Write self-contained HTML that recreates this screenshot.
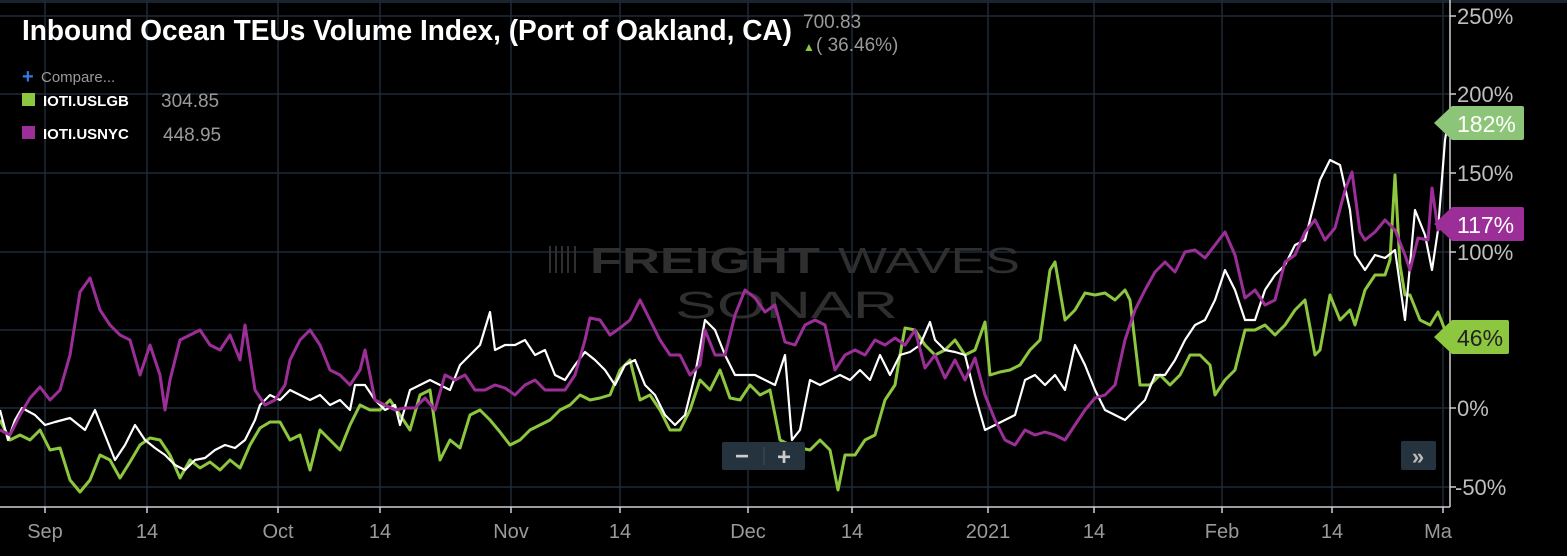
<!DOCTYPE html>
<html><head><meta charset="utf-8"><style>
html,body{margin:0;padding:0;background:#000;}
body{width:1567px;height:556px;overflow:hidden;position:relative;font-family:"Liberation Sans",sans-serif;}
svg{position:absolute;left:0;top:0;}
</style></head><body>
<svg width="1567" height="556" viewBox="0 0 1567 556" xmlns="http://www.w3.org/2000/svg">
<rect width="1567" height="556" fill="#000"/>
<rect x="0" y="0" width="1567" height="3" fill="#1a2430"/>
<g stroke="#1f2b36" stroke-width="1.5">
<line x1="0" y1="16" x2="1450" y2="16"/><line x1="0" y1="94" x2="1450" y2="94"/><line x1="0" y1="173" x2="1450" y2="173"/><line x1="0" y1="252" x2="1450" y2="252"/><line x1="0" y1="330" x2="1450" y2="330"/><line x1="0" y1="408" x2="1450" y2="408"/><line x1="0" y1="487" x2="1450" y2="487"/>
<line x1="45" y1="0" x2="45" y2="507"/><line x1="147" y1="0" x2="147" y2="507"/><line x1="278" y1="0" x2="278" y2="507"/><line x1="380" y1="0" x2="380" y2="507"/><line x1="511" y1="0" x2="511" y2="507"/><line x1="620" y1="0" x2="620" y2="507"/><line x1="748" y1="0" x2="748" y2="507"/><line x1="852" y1="0" x2="852" y2="507"/><line x1="988" y1="0" x2="988" y2="507"/><line x1="1094" y1="0" x2="1094" y2="507"/><line x1="1222" y1="0" x2="1222" y2="507"/><line x1="1332" y1="0" x2="1332" y2="507"/><line x1="1443" y1="0" x2="1443" y2="507"/>
</g>
<g fill="#2f2f2f" font-family="Liberation Sans,sans-serif">
<text x="590" y="273" font-size="36" font-weight="bold" textLength="230" lengthAdjust="spacingAndGlyphs">FREIGHT</text>
<text x="838" y="273" font-size="36" textLength="182" lengthAdjust="spacingAndGlyphs">WAVES</text>
<text x="675" y="318" font-size="38" textLength="223" lengthAdjust="spacingAndGlyphs">SONAR</text>
<g stroke="#2f2f2f" stroke-width="2"><line x1="550" y1="246" x2="550" y2="273"/><line x1="556" y1="246" x2="556" y2="273"/><line x1="562" y1="246" x2="562" y2="273"/><line x1="568" y1="246" x2="568" y2="273"/><line x1="575" y1="246" x2="575" y2="273"/></g>
</g>
<g fill="none" stroke-width="3" stroke-linejoin="round">
<polyline stroke="#8dc63f" points="0,420 10,440 20,435 30,440 40,430 50,450 60,448 70,480 80,492 90,480 100,455 110,460 120,478 130,462 140,445 150,438 160,440 170,455 180,478 190,460 200,468 210,462 220,470 230,460 240,468 250,445 260,428 270,422 280,422 290,440 300,435 310,470 320,430 330,440 340,450 350,425 360,405 370,410 380,410 390,400 400,415 410,430 420,395 430,390 440,460 450,440 460,448 470,415 480,410 490,420 500,432 510,445 520,440 530,430 540,425 550,420 560,410 570,405 580,395 590,400 600,398 610,395 620,370 630,360 640,400 650,395 660,410 670,430 680,430 690,410 700,380 710,390 720,370 730,398 740,400 750,385 760,395 770,390 780,440 790,445 800,448 810,450 820,440 830,450 838,490 845,455 855,455 865,440 875,435 885,400 895,385 900,355 905,328 915,330 925,345 935,355 945,350 955,340 965,355 975,350 985,322 990,375 1000,372 1010,370 1020,365 1030,350 1040,340 1050,270 1055,262 1065,320 1075,310 1085,293 1095,295 1105,293 1115,300 1125,290 1130,300 1140,385 1150,385 1160,375 1170,385 1180,375 1190,355 1200,355 1210,365 1215,395 1225,380 1235,370 1245,330 1255,330 1265,325 1275,335 1285,325 1295,310 1305,300 1315,355 1320,350 1330,295 1340,320 1350,310 1355,325 1365,290 1375,275 1385,275 1390,260 1395,175 1400,265 1405,295 1410,295 1420,320 1430,325 1438,312 1445,330"/>
<polyline stroke="#ffffff" stroke-width="2.2" points="0,410 8,440 15,420 22,408 35,415 45,425 55,422 70,418 85,430 95,410 105,435 115,460 125,445 135,425 145,440 155,448 165,455 175,465 185,470 195,460 205,458 215,450 225,445 235,448 245,440 255,420 260,405 270,395 280,400 290,390 300,395 310,400 320,395 330,405 340,400 350,410 355,385 365,385 375,400 385,410 395,405 400,425 410,390 420,385 430,380 440,385 450,390 460,365 470,355 480,345 490,312 495,350 505,345 515,345 525,340 535,355 545,350 555,375 565,380 575,365 585,352 595,360 605,370 615,385 625,365 635,360 645,385 655,395 665,415 675,425 685,415 695,375 705,320 715,330 725,355 735,375 745,375 755,375 765,380 775,385 785,355 792,440 800,430 810,380 820,385 830,380 840,375 850,380 860,370 870,380 880,355 890,375 900,355 910,352 920,345 930,322 935,340 945,350 955,352 965,355 975,395 985,430 995,425 1005,420 1015,415 1025,380 1035,375 1045,385 1055,375 1065,390 1075,345 1085,365 1095,390 1105,410 1115,415 1125,420 1135,410 1145,400 1155,375 1165,375 1175,360 1185,340 1195,325 1205,320 1215,300 1225,270 1235,290 1245,320 1255,320 1265,290 1275,275 1285,265 1295,245 1305,240 1315,200 1320,180 1330,160 1340,165 1350,210 1355,255 1365,270 1375,255 1385,258 1395,250 1405,320 1415,210 1425,235 1432,270 1438,230 1445,140 1447,128"/>
<polyline stroke="#9b2f97" points="0,430 10,435 20,415 30,398 40,387 50,400 60,390 70,355 80,292 90,278 100,310 110,325 120,335 130,340 140,375 150,345 160,375 165,410 170,380 180,340 190,335 200,330 210,345 220,350 230,335 240,360 245,325 255,390 265,405 275,400 285,385 290,360 300,340 310,330 320,345 330,370 340,375 350,385 360,370 365,350 375,400 385,405 395,410 405,408 415,408 425,398 435,410 445,375 455,380 465,375 475,390 485,390 495,385 505,388 515,395 525,385 535,380 545,390 555,390 565,390 575,375 585,340 590,318 600,320 610,335 620,328 630,320 640,300 650,320 660,340 670,355 680,355 690,375 700,365 705,330 715,355 725,355 735,315 745,290 755,298 765,312 775,305 785,342 795,345 805,325 815,320 825,325 835,370 845,355 855,350 865,355 875,340 885,345 895,338 905,345 915,330 925,368 935,355 945,378 955,360 965,380 975,358 985,395 995,420 1005,440 1015,445 1025,430 1035,435 1045,432 1055,435 1065,440 1075,425 1085,410 1095,398 1105,395 1115,385 1125,340 1135,310 1145,290 1155,272 1165,262 1175,272 1185,252 1195,250 1205,258 1215,245 1225,232 1235,255 1245,298 1255,290 1265,305 1275,300 1285,262 1295,255 1305,232 1315,220 1325,240 1335,228 1345,190 1352,172 1360,232 1365,240 1375,232 1385,220 1395,230 1405,255 1410,270 1418,238 1428,240 1432,188 1438,230 1445,225"/>
</g>
<line x1="1450" y1="0" x2="1450" y2="507" stroke="#cfcfcf" stroke-width="1.5"/>
<line x1="0" y1="507" x2="1450" y2="507" stroke="#cfcfcf" stroke-width="1.5"/>
<g stroke="#cfcfcf" stroke-width="1.5">
<line x1="1450" y1="16" x2="1456" y2="16"/><line x1="1450" y1="94" x2="1456" y2="94"/><line x1="1450" y1="173" x2="1456" y2="173"/><line x1="1450" y1="252" x2="1456" y2="252"/><line x1="1450" y1="330" x2="1456" y2="330"/><line x1="1450" y1="408" x2="1456" y2="408"/><line x1="1450" y1="487" x2="1456" y2="487"/>
<line x1="45" y1="507" x2="45" y2="513"/><line x1="147" y1="507" x2="147" y2="513"/><line x1="278" y1="507" x2="278" y2="513"/><line x1="380" y1="507" x2="380" y2="513"/><line x1="511" y1="507" x2="511" y2="513"/><line x1="620" y1="507" x2="620" y2="513"/><line x1="748" y1="507" x2="748" y2="513"/><line x1="852" y1="507" x2="852" y2="513"/><line x1="988" y1="507" x2="988" y2="513"/><line x1="1094" y1="507" x2="1094" y2="513"/><line x1="1222" y1="507" x2="1222" y2="513"/><line x1="1332" y1="507" x2="1332" y2="513"/><line x1="1443" y1="507" x2="1443" y2="513"/>
</g>
<g fill="#bfbfbf" font-size="22" font-family="Liberation Sans,sans-serif">
<text x="1457" y="24">250%</text><text x="1457" y="102">200%</text><text x="1457" y="181">150%</text><text x="1457" y="260">100%</text><text x="1457" y="338">50%</text><text x="1457" y="416">0%</text><text x="1455" y="495">-50%</text>
</g>
<g fill="#9a9a9a" font-size="20" font-family="Liberation Sans,sans-serif" text-anchor="middle">
<text x="45" y="538">Sep</text><text x="147" y="538">14</text><text x="278" y="538">Oct</text><text x="380" y="538">14</text><text x="511" y="538">Nov</text><text x="620" y="538">14</text><text x="748" y="538">Dec</text><text x="852" y="538">14</text><text x="988" y="538">2021</text><text x="1094" y="538">14</text><text x="1222" y="538">Feb</text><text x="1332" y="538">14</text><text x="1438" y="538">Ma</text>
</g>
<path d="M1434,123 L1452,106 L1522,106 Q1524,106 1524,108 L1524,138 Q1524,140 1522,140 L1452,140 Z" fill="#8cc578"/>
<text x="1457" y="132" fill="#fff" font-size="23">182%</text>
<path d="M1434,224 L1452,207 L1522,207 Q1524,207 1524,209 L1524,239 Q1524,241 1522,241 L1452,241 Z" fill="#9b2f97"/>
<text x="1457" y="233" fill="#fff" font-size="23">117%</text>
<path d="M1434,337 L1452,320 L1507,320 Q1509,320 1509,322 L1509,352 Q1509,354 1507,354 L1452,354 Z" fill="#8dc63f"/>
<text x="1457" y="346" fill="#222" font-size="23">46%</text>
<rect x="722" y="442" width="83" height="28" rx="2" fill="#25333f"/>
<line x1="764" y1="447" x2="764" y2="465" stroke="#3d4e5c"/>
<text x="742" y="464" fill="#ccc" font-size="24" font-weight="bold" text-anchor="middle">−</text>
<text x="784" y="465" fill="#ccc" font-size="24" font-weight="bold" text-anchor="middle">+</text>
<rect x="1401" y="441" width="35" height="29" rx="2" fill="#25333f"/>
<text x="1418" y="464" fill="#bbb" font-size="22" font-weight="bold" text-anchor="middle">»</text>
<text x="22" y="40" fill="#fff" font-size="29" font-weight="bold" font-family="Liberation Sans Narrow,Liberation Sans,sans-serif" textLength="770" lengthAdjust="spacingAndGlyphs">Inbound Ocean TEUs Volume Index, (Port of Oakland, CA)</text>
<text x="803" y="28" fill="#9a9a9a" font-size="19">700.83</text>
<text x="803" y="51" fill="#8dc63f" font-size="12">▲</text>
<text x="816" y="51" fill="#9a9a9a" font-size="19">( 36.46%)</text>
<text x="22" y="83" fill="#2f7de1" font-size="20" font-weight="bold">+</text>
<text x="41" y="82" fill="#9a9a9a" font-size="15">Compare...</text>
<rect x="22" y="93" width="13" height="13" fill="#8dc63f"/>
<text x="43" y="106" fill="#fff" font-size="15" font-weight="bold">IOTI.USLGB</text>
<text x="161" y="107" fill="#9a9a9a" font-size="19">304.85</text>
<rect x="22" y="126" width="13" height="13" fill="#9b2f97"/>
<text x="43" y="139" fill="#fff" font-size="15" font-weight="bold">IOTI.USNYC</text>
<text x="163" y="141" fill="#9a9a9a" font-size="19">448.95</text>
</svg>
</body></html>
